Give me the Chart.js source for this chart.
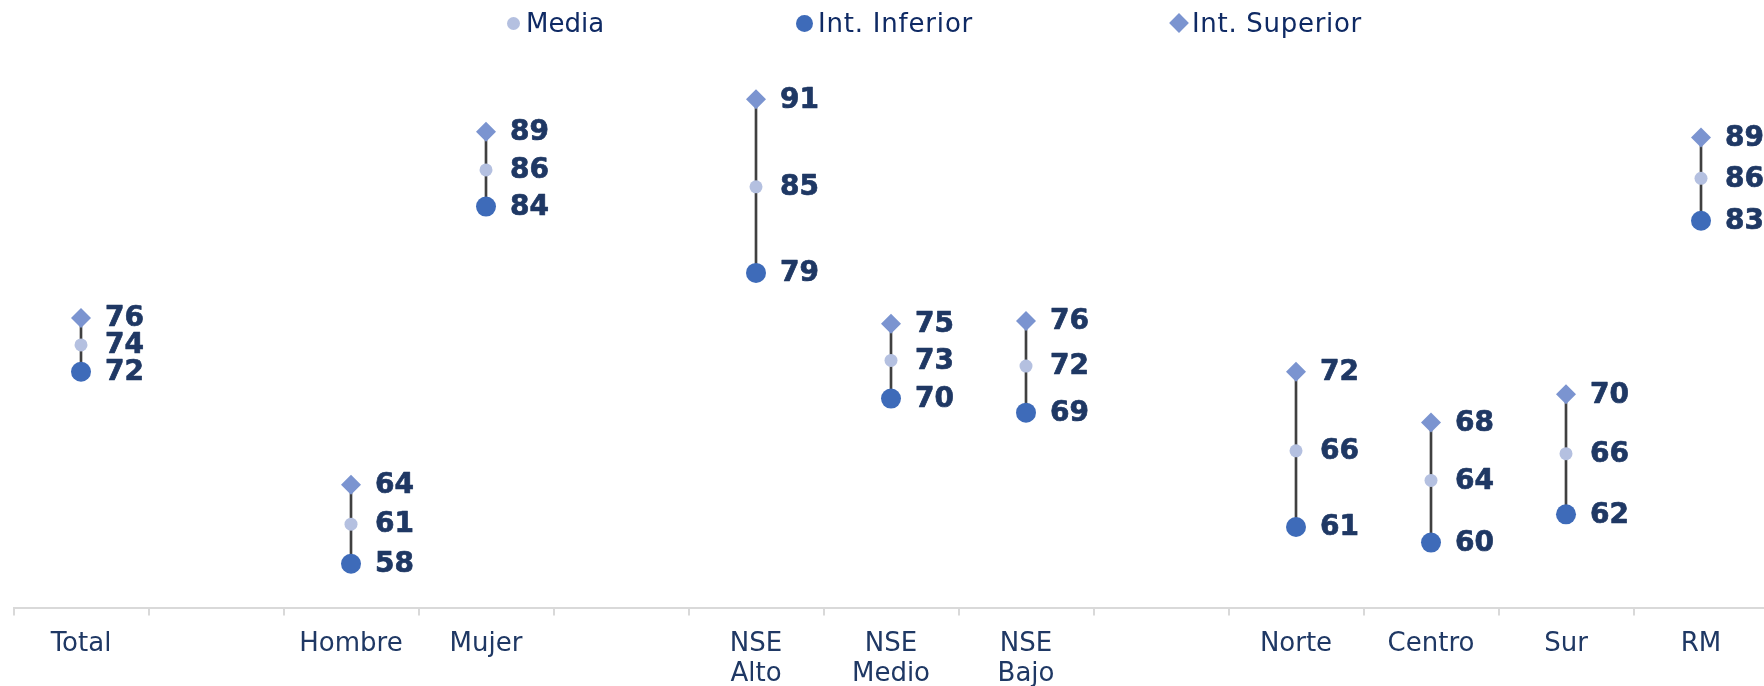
<!DOCTYPE html>
<html>
<head>
<meta charset="utf-8">
<script src="https://cdn.jsdelivr.net/npm/chart.js@4.4.1/dist/chart.umd.min.js"></script>
<style>
  html, body { margin: 0; padding: 0; background: #ffffff; overflow: hidden; width: 1764px; height: 686px; }
  #wrap { position: relative; width: 1770px; height: 686px; }
  canvas { position: absolute; left: 0; top: 0; }
  .lg { position: absolute; top: 8px; font-family: "DejaVu Sans", Verdana, sans-serif; font-size: 26px; color: #0f2a64; line-height: 30px; white-space: nowrap; }
  .mk { position: absolute; }
</style>
</head>
<body>
<div id="wrap">
  <canvas id="c" width="1770" height="686"></canvas>
</div>
<script>
// ---- Data ----
const categories = [
  "Total", "", "Hombre", "Mujer", "",
  ["NSE", "Alto"], ["NSE", "Medio"], ["NSE", "Bajo"], "",
  "Norte", "Centro", "Sur", "RM"
];
const seriesNames = ["Media", "Int. Inferior", "Int. Superior"];
const media       = [73.9, null, 61.2, 86.3, null, 85.1, 72.8, 72.4, null, 66.4, 64.3, 66.2, 85.7];
const intInferior = [72.0, null, 58.4, 83.7, null, 79.0, 70.1, 69.1, null, 61.0, 59.9, 61.9, 82.7];
const intSuperior = [75.8, null, 64.0, 89.0, null, 91.3, 75.4, 75.6, null, 72.0, 68.4, 70.4, 88.6];

// ---- Colours ----
const cMedia = "#b4c0e0";
const cInf = "#3e6bb9";
const cSup = "#7b94d0";
const cText = "#1f3864";

// ranges for the connecting lines, built from the interval arrays
const ranges = intInferior.map((lo, i) => (lo === null ? null : [lo, intSuperior[i]]));

// ---- HTML legend ----
const wrap = document.getElementById("wrap");
const legendItems = [
  { name: seriesNames[0], cx: 513, size: 13, shape: "circle", color: cMedia, tx: 526, ls: 0 },
  { name: seriesNames[1], cx: 804.5, size: 17, shape: "circle", color: cInf, tx: 818, ls: 0.8 },
  { name: seriesNames[2], cx: 1178.5, size: 14, shape: "diamond", color: cSup, tx: 1192, ls: 0.7 }
];
legendItems.forEach(it => {
  const m = document.createElement("div");
  m.className = "mk";
  m.style.width = it.size + "px";
  m.style.height = it.size + "px";
  m.style.background = it.color;
  m.style.left = (it.cx - it.size / 2) + "px";
  m.style.top = (23 - it.size / 2) + "px";
  if (it.shape === "circle") m.style.borderRadius = "50%";
  else m.style.transform = "rotate(45deg)";
  wrap.appendChild(m);
  const t = document.createElement("div");
  t.className = "lg";
  t.style.left = it.tx + "px";
  t.style.letterSpacing = it.ls + "px";
  t.textContent = it.name;
  wrap.appendChild(t);
});

// ---- value labels plugin ----
const valueLabels = {
  id: "valueLabels",
  afterDatasetsDraw(chart) {
    const ctx = chart.ctx;
    ctx.save();
    ctx.font = "bold 28px 'DejaVu Sans', Verdana, sans-serif";
    ctx.fillStyle = cText;
    ctx.strokeStyle = cText;
    ctx.lineWidth = 0.7;
    ctx.lineJoin = "round";
    ctx.textAlign = "left";
    ctx.textBaseline = "middle";
    chart.data.datasets.forEach((ds, di) => {
      if (ds.type !== "line") return;
      const meta = chart.getDatasetMeta(di);
      meta.data.forEach((pt, i) => {
        const v = ds.data[i];
        if (v === null || v === undefined) return;
        const s = String(Math.round(v));
        ctx.fillText(s, pt.x + 24, pt.y + 1);
        ctx.strokeText(s, pt.x + 24, pt.y + 1);
      });
    });
    ctx.restore();
  }
};

new Chart(document.getElementById("c"), {
  type: "bar",
  data: {
    labels: categories,
    datasets: [
      { type: "line", label: seriesNames[0], data: media, showLine: false,
        pointStyle: "circle", pointRadius: 6.5, pointHoverRadius: 6.5,
        pointBackgroundColor: cMedia, pointBorderWidth: 0, order: 1 },
      { type: "line", label: seriesNames[1], data: intInferior, showLine: false,
        pointStyle: "circle", pointRadius: 10, pointHoverRadius: 10,
        pointBackgroundColor: cInf, pointBorderWidth: 0, order: 2 },
      { type: "line", label: seriesNames[2], data: intSuperior, showLine: false,
        pointStyle: "rectRot", pointRadius: 10, pointHoverRadius: 10,
        pointBackgroundColor: cSup, pointBorderWidth: 0, order: 3 },
      { type: "bar", label: "rango", data: ranges, backgroundColor: "#404040",
        barThickness: 2, borderWidth: 0, order: 10 }
    ]
  },
  options: {
    responsive: false,
    animation: false,
    devicePixelRatio: 1,
    layout: { autoPadding: false, padding: { left: 13.5, right: 1.5, top: 40, bottom: 0 } },
    plugins: {
      legend: { display: false },
      tooltip: { enabled: false }
    },
    scales: {
      x: {
        offset: true,
        grid: { offset: true, drawOnChartArea: false, drawTicks: true, tickLength: 8, color: "#d9d9d9", lineWidth: 2 },
        border: { display: true, color: "#d9d9d9", width: 2 },
        ticks: {
          color: cText,
          font: { family: "'DejaVu Sans', Verdana, sans-serif", size: 26, lineHeight: 1.17 },
          padding: 13.5,
          maxRotation: 0,
          autoSkip: false
        },
        afterFit(scale) { scale.height = 78.5; }
      },
      y: {
        display: false,
        min: 55.3,
        max: 95.5
      }
    }
  },
  plugins: [valueLabels]
});
</script>
</body>
</html>
